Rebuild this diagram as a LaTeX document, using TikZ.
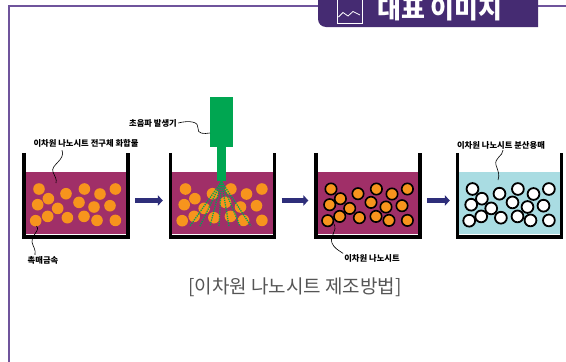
\documentclass[tikz,border=0pt]{standalone}
\usepackage{fontspec}
\newfontfamily\kofont{Noto Sans CJK KR}
\usetikzlibrary{calc}
\usetikzlibrary{positioning}
\usetikzlibrary{arrows.meta}

\definecolor{framepurple}{HTML}{6F549C}
\definecolor{tabpurple}{HTML}{452B72}
\definecolor{liquidred}{HTML}{A02F68}
\definecolor{liquidblue}{HTML}{A9DCE2}
\definecolor{dotorange}{HTML}{F7941D}
\definecolor{horngreen}{HTML}{00A651}
\definecolor{arrownavy}{HTML}{2E2E7A}
\definecolor{captiongray}{HTML}{555555}

\tikzset{
  beaker/.style={rectangle,minimum width=104pt,minimum height=84pt,inner sep=0pt},
  wall/.style={line width=3.5pt,black,line join=miter},
  steparrow/.style={line width=5.5pt,arrownavy,-{Triangle[length=5pt,width=10.5pt]},
    shorten <=7pt,shorten >=7.5pt},
  lbl/.style={font=\kofont\bfseries\fontsize{8.3}{8.3}\selectfont,inner sep=1pt},
  wavy/.style={black,line width=0.6pt},
  seed/.style={fill=dotorange},
  sheet/.style={fill=dotorange,draw=black,line width=1.6pt},
  dispersed/.style={fill=white,draw=black,line width=1.8pt},
  spray/.style={horngreen,line width=1.3pt,densely dotted},
}

% particle layout inside one beaker
\newcommand\particlelist{0/0, 9.4/9.7, 27/4.7, 45.4/0, 61/5, 76.4/0, -1.3/15.7,
  18.7/19.4, 40/13.4, 55/18, 71/16.7, 8.7/27.4, 28.4/28.7, 45/27.4,
  -3.3/31.7, 58/31.4, 76.4/31.4}
\newcommand\particles[3]{%
  \foreach \dx/\dy in \particlelist
    \path[#2] ($(#1.center)+(\dx-37,\dy-6)$) circle (#3);}
\newcommand\beakerwalls[2]{%
  \fill[#2] ($(#1.south west)+(2,-3)$) rectangle ($(#1.north east)+(-2,19)$);
  \draw[wall] (#1.north west) -- (#1.south west) -- (#1.south east) -- (#1.north east);}

\begin{document}
\begin{tikzpicture}[x=1pt,y=-1pt]
\clip (0,0) rectangle (566,362);

% frame and title tab
\draw[framepurple,line width=2pt] (8.5,364) -- (8.5,5.5) -- (320,5.5);
\draw[framepurple,line width=2pt] (536,5.5) -- (568,5.5);
\fill[tabpurple] (538,-2) -- (318,-2) [rounded corners=8pt] -- (318,27) [sharp corners] -- (538,27) -- cycle;
\draw[white,line width=0.8pt] (337,-2) -- (337,23) -- (362,23) -- (362,-2);
\draw[white,line width=0.8pt] (338.5,17) -- (343,12.5) -- (348,16) -- (353,11.5) -- (360,15);
\node[font=\kofont\bfseries\fontsize{26}{26}\selectfont,text=white,inner sep=0pt,anchor=base west] (head) at (377,18.5) {대표 이미지};

% beakers
\node[beaker] (b1) at (76,195) {};
\node[beaker] (b2) at (222.5,195) {};
\node[beaker] (b3) at (368,195) {};
\node[beaker] (b4) at (509.5,195) {};

\beakerwalls{b1}{liquidred}
\beakerwalls{b2}{liquidred}
\beakerwalls{b3}{liquidred}
\beakerwalls{b4}{liquidblue}

\particles{b1}{seed}{5.8pt}
\particles{b2}{seed}{5.8pt}
\particles{b3}{sheet}{5.7pt}
\particles{b4}{dispersed}{5.9pt}

% sonicator horn
\node[fill=horngreen,minimum width=23pt,minimum height=50pt,inner sep=0pt] (horn) at (221.5,122) {};
\node[fill=horngreen,minimum width=9pt,minimum height=34pt,inner sep=0pt,below=0pt of horn] (neck) {};
\foreach \sx in {190,200,210,219,229,240,251}
  \draw[spray] (neck.south) -- (\sx,226);

% process arrows
\draw[steparrow] ([yshift=-5.5pt]b1.east) -- ([yshift=-5.5pt]b2.west);
\draw[steparrow] ([yshift=-5.5pt]b2.east) -- ([yshift=-5.5pt]b3.west);
\draw[steparrow] ([yshift=-5.5pt]b3.east) -- ([yshift=-5.5pt]b4.west);

% labels
\node[lbl] (precursor) at (86,143) {이차원 나노시트 전구체 화합물};
\node[lbl] (catalyst) at (43,260) {촉매금속};
\node[lbl] (sonic) at (153,123) {초음파 발생기};
\node[lbl] (sheets) at (372,258.5) {이차원 나노시트};
\node[lbl] (solvent) at (501,145) {이차원 나노시트 분산용매};

\coordinate (p1) at (56,183);
\coordinate (p2) at (36.5,226);
\coordinate (p3) at (210,133);
\coordinate (p4) at (334,224);
\coordinate (p5) at (498,180);

\draw[wavy] ($(precursor.south)+(-24,2)$) .. controls (66,160) and (50,165) .. (53,172)
  .. controls (55,177) and (57,179) .. (p1);
\draw[wavy] (p2) .. controls (41,231) and (30,236) .. (32,242)
  .. controls (33,247) and (36,249) .. (catalyst.north west -| 35,0);
\draw[wavy] (sonic.east) .. controls (190,120) and (199,122) .. (198,128)
  .. controls (197,134) and (204,134) .. (p3);
\draw[wavy] (p4) .. controls (338,231) and (329,236) .. (332,243)
  .. controls (334,248) and (338,250) .. (sheets.north west);
\draw[wavy] ($(solvent.south)+(2,0)$) .. controls (503,156) and (494,158) .. (496,165)
  .. controls (498,171) and (500,175) .. (p5);

\node[font=\kofont\fontsize{19}{20}\selectfont,text=captiongray] (caption) at (295,287) {[이차원 나노시트 제조방법]};
\end{tikzpicture}
\end{document}
